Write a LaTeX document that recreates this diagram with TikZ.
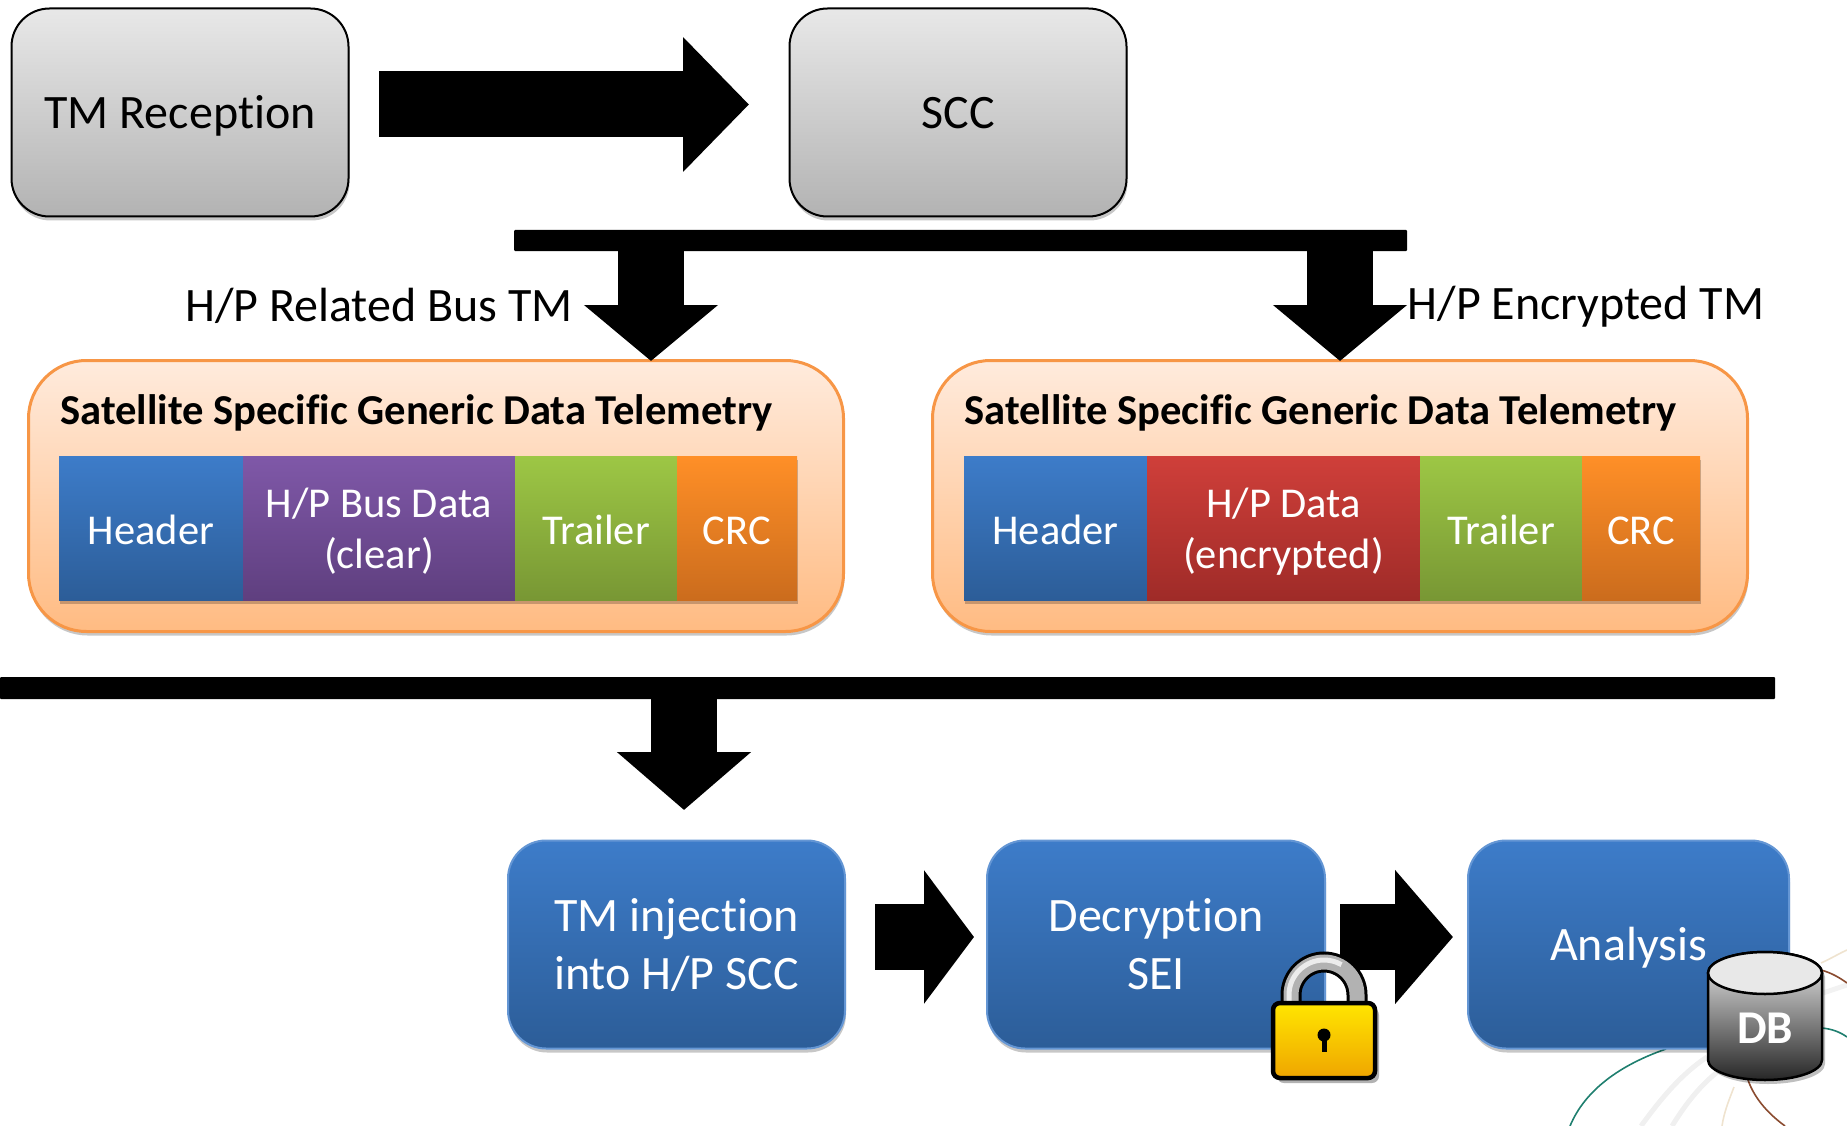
\documentclass[tikz,border=0pt]{standalone}
\usepackage{fontspec}
\setmainfont[Ligatures=NoCommon]{Carlito}
\usetikzlibrary{arrows.meta,shadows,calc}
\definecolor{bluetop}{HTML}{3D7CC9}\definecolor{bluebot}{HTML}{2C5D98}
\definecolor{purtop}{HTML}{7F58A8}\definecolor{purbot}{HTML}{5F3F7F}
\definecolor{greentop}{HTML}{9DC745}\definecolor{greenbot}{HTML}{789734}
\definecolor{ortop}{HTML}{FF8F27}\definecolor{orbot}{HTML}{CB6C1D}
\definecolor{redtop}{HTML}{CF3F3A}\definecolor{redbot}{HTML}{9F2B28}
\definecolor{panelline}{HTML}{F79646}\definecolor{paneltop}{HTML}{FFEBDD}\definecolor{panelbot}{HTML}{FFBB82}
\definecolor{locktop}{HTML}{FFE600}\definecolor{lockbot}{HTML}{EFA500}
\definecolor{teal1}{HTML}{1F7F6F}\definecolor{brown1}{HTML}{8A4B2F}\definecolor{beige1}{HTML}{EFE3CF}
\tikzset{
  softshadow/.style={drop shadow={shadow xshift=1pt,shadow yshift=-4pt,opacity=.22,fill=black}},
  oneline/.style={text height=32pt,text depth=0pt},
  graybox/.style={draw=black,line width=2pt,rounded corners=38pt,top color=gray!18,bottom color=gray!60,minimum width=337pt,minimum height=208pt,inner sep=0pt,align=center,font=\fontsize{48}{58}\selectfont,softshadow},
  bluebox/.style={draw=bluetop!80!white,line width=2pt,rounded corners=38pt,top color=bluetop,bottom color=bluebot,minimum height=208pt,inner sep=0pt,align=center,text=white,font=\fontsize{48}{58}\selectfont,softshadow},
  panel/.style={draw=panelline,line width=3pt,rounded corners=58pt,top color=paneltop,bottom color=panelbot,minimum width=815pt,minimum height=271pt,inner sep=0pt,softshadow},
  celltop/.style={minimum height=144pt,inner sep=0pt,align=center,text=white,font=\fontsize{42.5}{51}\selectfont,softshadow},
  cellone/.style={text height=32pt,text depth=0pt},
  celltwo/.style={text height=81pt,text depth=0pt},
  cellblue/.style={celltop,top color=bluetop,bottom color=bluebot},
  cellpurple/.style={celltop,top color=purtop,bottom color=purbot},
  cellgreen/.style={celltop,top color=greentop,bottom color=greenbot},
  cellorange/.style={celltop,top color=ortop,bottom color=orbot},
  cellred/.style={celltop,top color=redtop,bottom color=redbot},
  paneltitle/.style={anchor=west,inner sep=0pt,font=\fontsize{42.6}{50}\selectfont\bfseries},
  sidelabel/.style={inner sep=0pt,font=\fontsize{48}{58}\selectfont},
  barnode/.style={fill=black,inner sep=0pt,rounded corners=1pt},
  blockarrow/.style={line width=66pt,draw=black,-{Triangle[length=#1,width=131pt]}},
  deco/.style={line width=1.6pt},
}
\begin{document}
\begin{tikzpicture}[x=1pt,y=-1pt]
\useasboundingbox (0,0) rectangle (1847,1126);
% faint background network behind the Analysis block
\draw[line width=5pt,gray!12] (1707,1057) .. controls (1680,1075) and (1660,1100) .. (1641,1126);
\draw[line width=5pt,gray!12] (1720,1070) .. controls (1700,1085) and (1685,1105) .. (1672,1126);
\draw[line width=5pt,gray!10] (1823,993) -- (1847,985);
\draw[deco,teal1] (1666,1049) .. controls (1620,1065) and (1585,1090) .. (1570,1126);
\draw[deco,teal1] (1822,1028) .. controls (1832,1029) and (1840,1032) .. (1847,1037);
\draw[deco,brown1] (1748,1080) .. controls (1755,1100) and (1770,1115) .. (1785,1126);
\draw[deco,brown1] (1821,970) .. controls (1832,973) and (1840,978) .. (1847,983);
\draw[deco,beige1] (1734,1087) .. controls (1729,1100) and (1724,1112) .. (1722,1126);
\draw[deco,beige1] (1821,963) .. controls (1832,958) and (1840,953) .. (1847,950);
% top row
\node[graybox,oneline] (tmr) at (180,112.5) {TM Reception};
\node[graybox,oneline] (scc) at (958,112.5) {SCC};
\coordinate (tmrout) at (379,104.5);
\coordinate (sccin) at (749,104.5);
\draw[blockarrow=66pt] (tmrout) -- (sccin);
\node[barnode,minimum width=893pt,minimum height=21pt] (bara) at (960.5,240.5) {};
\node[sidelabel] (lblbus) at (379,306) {H/P Related Bus TM};
\node[sidelabel] (lblenc) at (1586,307) {H/P Encrypted TM};
% panels
\node[panel] (pa) at (436,496) {};
\node[panel] (pb) at (1340,496) {};
\coordinate (xa) at (651,0);
\coordinate (xb) at (1340,0);
\draw[blockarrow=56pt] (bara.south -| xa) -- ($(pa.north -| xa)+(0,2)$);
\draw[blockarrow=56pt] (bara.south -| xb) -- ($(pb.north -| xb)+(0,2)$);
\node[paneltitle] (ta) at (60,413) {Satellite Specific Generic Data Telemetry};
\node[paneltitle] (tb) at (964,413) {Satellite Specific Generic Data Telemetry};
% left packet
\node[cellblue,cellone,minimum width=184pt] (a1) at (151,528) {Header};
\node[cellpurple,celltwo,minimum width=272pt] (a2) at (379,528) {H/P Bus Data\\(clear)};
\node[cellgreen,cellone,minimum width=162pt] (a3) at (596,528) {Trailer};
\node[cellorange,cellone,minimum width=120pt] (a4) at (737,528) {CRC};
% right packet
\node[cellblue,cellone,minimum width=183pt] (b1) at (1055.5,528) {Header};
\node[cellred,celltwo,minimum width=273pt] (b2) at (1283.5,528) {H/P Data\\(encrypted)};
\node[cellgreen,cellone,minimum width=162pt] (b3) at (1501,528) {Trailer};
\node[cellorange,cellone,minimum width=118pt] (b4) at (1641,528) {CRC};
% lower bar and arrow
\node[barnode,minimum width=1775pt,minimum height=22pt] (barb) at (887.5,688) {};
\coordinate (xc) at (684,0);
\coordinate (injtop) at (684,810);
\draw[blockarrow=58pt] (barb.south -| xc) -- (injtop);
% process row
\node[bluebox,text height=90pt,text depth=0pt,minimum width=337pt] (inj) at (676.5,944.5) {TM injection\\into H/P SCC};
\node[bluebox,text height=90pt,text depth=0pt,minimum width=338pt] (dec) at (1156,944.5) {Decryption\\SEI};
\node[bluebox,oneline,minimum width=321pt] (ana) at (1628.5,944.5) {Analysis};
\coordinate (p1) at (875,937);
\coordinate (p2) at (974,937);
\coordinate (p3) at (1340,937);
\coordinate (p4) at (1453,937);
\draw[blockarrow=50pt] (p1) -- (p2);
\draw[blockarrow=58pt] (p3) -- (p4);
% padlock
\draw[line width=21pt,black] (1291,1012) -- (1291,995) arc[start angle=180,end angle=0,radius=33pt] -- (1357,1012);
\draw[line width=15pt,gray!60] (1291,1012) -- (1291,995) arc[start angle=180,end angle=0,radius=33pt] -- (1357,1012);
\draw[line width=5pt,gray!15] (1289,1005) -- (1289,995) arc[start angle=180,end angle=60,radius=35pt];
\path[draw=black,line width=4.5pt,rounded corners=7pt,top color=locktop,bottom color=lockbot,drop shadow={shadow xshift=4pt,shadow yshift=-5pt,opacity=.3,fill=black}] (1273,1003) rectangle (1375,1078);
\fill[black] (1324,1035) circle[radius=6.5pt];
\fill[black] (1321.5,1036) rectangle (1326.5,1052);
% database
\path[draw=black,line width=2.5pt,top color=gray!15,bottom color=black!85,drop shadow={shadow xshift=3pt,shadow yshift=-4pt,opacity=.25,fill=black}]
  (1708,973) -- (1708,1060) arc[start angle=180,end angle=360,x radius=57pt,y radius=20pt] -- (1822,973) arc[start angle=0,end angle=180,x radius=57pt,y radius=21pt] -- cycle;
\draw[line width=2.5pt,black,fill=gray!18] (1765,973) ellipse[x radius=57pt,y radius=21pt];
\node[inner sep=0pt,text=white,font=\fontsize{47}{50}\selectfont\bfseries] (db) at (1765,1028) {DB};
\end{tikzpicture}
\end{document}
